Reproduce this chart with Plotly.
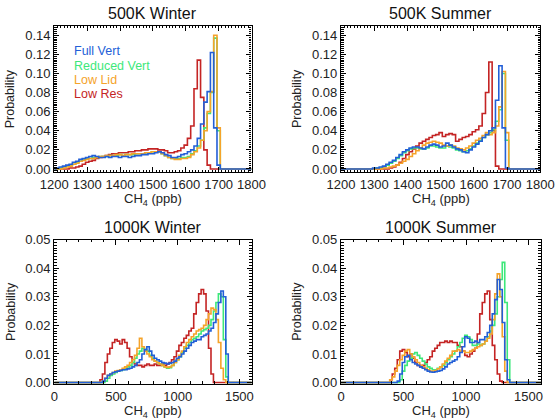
import plotly.graph_objects as go

W, H = 557, 420
FONT = "Liberation Sans, Arial, sans-serif"

series_names = ["Full Vert", "Reduced Vert", "Low Lid", "Low Res"]
series_colors = {"Full Vert": "#235fd7", "Reduced Vert": "#3de87a",
                 "Low Lid": "#f5a32a", "Low Res": "#c42424"}
panel_titles = ["500K Winter", "500K Summer", "1000K Winter", "1000K Summer"]
y_ticks_500 = [0.00, 0.02, 0.04, 0.06, 0.08, 0.10, 0.12, 0.14]
y_ticks_1000 = [0.00, 0.01, 0.02, 0.03, 0.04, 0.05]
x_ticks_500 = [1200, 1300, 1400, 1500, 1600, 1700, 1800]
x_ticks_1000 = [0, 500, 1000, 1500]

# ---------------- 500K Winter: bin centres 1210..1720 step 10 ----------------
w500_start, w500_step = 1210, 10
w500_full = [0.001, 0.002, 0.003, 0.004, 0.005, 0.007, 0.008, 0.010, 0.011, 0.012,
             0.013, 0.014, 0.013, 0.012, 0.012, 0.013, 0.012, 0.013, 0.013, 0.012,
             0.013, 0.013, 0.012, 0.013, 0.014, 0.014, 0.015, 0.015, 0.016, 0.016,
             0.017, 0.018, 0.017, 0.015, 0.014, 0.012, 0.012, 0.013, 0.015, 0.016,
             0.018, 0.020, 0.024, 0.032, 0.047, 0.070, 0.081, 0.122, 0.043, 0.004,
             0.0, 0.0]
w500_reduced = [0.0, 0.001, 0.002, 0.003, 0.004, 0.005, 0.007, 0.008, 0.010, 0.011,
                0.011, 0.012, 0.012, 0.013, 0.013, 0.013, 0.014, 0.014, 0.014, 0.015,
                0.014, 0.015, 0.015, 0.015, 0.016, 0.016, 0.016, 0.017, 0.017, 0.018,
                0.018, 0.018, 0.016, 0.014, 0.012, 0.011, 0.011, 0.011, 0.012, 0.012,
                0.013, 0.016, 0.019, 0.024, 0.030, 0.043, 0.058, 0.080, 0.137, 0.040,
                0.0, 0.0]
w500_lowlid = [0.0, 0.0, 0.001, 0.002, 0.003, 0.005, 0.006, 0.008, 0.009, 0.010,
               0.011, 0.011, 0.012, 0.013, 0.013, 0.014, 0.014, 0.014, 0.015, 0.015,
               0.014, 0.015, 0.015, 0.016, 0.016, 0.016, 0.016, 0.017, 0.017, 0.018,
               0.018, 0.018, 0.016, 0.014, 0.012, 0.011, 0.010, 0.010, 0.011, 0.011,
               0.012, 0.015, 0.018, 0.022, 0.030, 0.040, 0.060, 0.081, 0.140, 0.043,
               0.0, 0.0]
w500_lowres = [0.0, 0.0, 0.0, 0.0, 0.001, 0.001, 0.002, 0.003, 0.005, 0.007,
               0.008, 0.009, 0.011, 0.012, 0.013, 0.014, 0.015, 0.016, 0.016, 0.017,
               0.017, 0.017, 0.018, 0.018, 0.019, 0.019, 0.020, 0.020, 0.021, 0.021,
               0.021, 0.020, 0.020, 0.019, 0.017, 0.017, 0.018, 0.019, 0.022, 0.025,
               0.032, 0.045, 0.084, 0.114, 0.075, 0.020, 0.004, 0.0, 0.0, 0.0,
               0.0, 0.0]

# ---------------- 500K Summer: bin centres 1300..1720 step 10 ----------------
s500_start, s500_step = 1300, 10
s500_full = [0.001, 0.001, 0.002, 0.003, 0.005, 0.007, 0.009, 0.012, 0.015, 0.018,
             0.020, 0.022, 0.023, 0.023, 0.022, 0.021, 0.023, 0.025, 0.026, 0.025,
             0.023, 0.024, 0.027, 0.025, 0.023, 0.021, 0.020, 0.018, 0.017, 0.020,
             0.023, 0.026, 0.029, 0.033, 0.036, 0.040, 0.043, 0.072, 0.108, 0.043,
             0.001, 0.0, 0.0]
s500_reduced = [0.0, 0.001, 0.001, 0.002, 0.004, 0.006, 0.008, 0.011, 0.014, 0.017,
                0.019, 0.021, 0.022, 0.022, 0.021, 0.021, 0.022, 0.024, 0.024, 0.023,
                0.022, 0.022, 0.024, 0.023, 0.022, 0.020, 0.019, 0.018, 0.019, 0.021,
                0.024, 0.027, 0.030, 0.033, 0.036, 0.038, 0.041, 0.050, 0.062, 0.100,
                0.030, 0.0, 0.0]
s500_lowlid = [0.0, 0.0, 0.0, 0.001, 0.001, 0.002, 0.003, 0.004, 0.006, 0.008,
               0.010, 0.013, 0.016, 0.019, 0.022, 0.025, 0.027, 0.028, 0.029, 0.028,
               0.027, 0.025, 0.024, 0.025, 0.024, 0.022, 0.021, 0.020, 0.022, 0.024,
               0.027, 0.030, 0.032, 0.035, 0.038, 0.036, 0.038, 0.045, 0.065, 0.102,
               0.038, 0.0, 0.0]
s500_lowres = [0.0, 0.0, 0.0, 0.0, 0.0, 0.001, 0.002, 0.004, 0.007, 0.011,
               0.015, 0.018, 0.021, 0.024, 0.027, 0.029, 0.031, 0.033, 0.035, 0.036,
               0.038, 0.034, 0.036, 0.037, 0.036, 0.029, 0.031, 0.033, 0.034, 0.036,
               0.039, 0.041, 0.045, 0.058, 0.080, 0.112, 0.040, 0.003, 0.0, 0.0,
               0.0, 0.0, 0.0]

# ---------------- 1000K Winter: bin centres 360..1440 step 20 ----------------
w1000_start, w1000_step = 360, 20
w1000_full = [0.0, 0.0, 0.0005, 0.0015, 0.0025, 0.003, 0.0035, 0.0038, 0.004, 0.0042,      # 360-540
              0.0045, 0.0045, 0.0048, 0.005, 0.0055, 0.006, 0.007, 0.008, 0.010, 0.0115,   # 560-740
              0.0125, 0.011, 0.0095, 0.0085, 0.008, 0.0075, 0.007, 0.0068, 0.0065, 0.0068, # 760-940
              0.007, 0.0075, 0.0085, 0.009, 0.010, 0.011, 0.012, 0.013, 0.014, 0.0145,     # 960-1140
              0.015, 0.015, 0.016, 0.0165, 0.017, 0.018, 0.019, 0.021, 0.024, 0.028,       # 1160-1340
              0.032, 0.030, 0.010, 0.0, 0.0]                                               # 1360-1440
w1000_reduced = [0.0, 0.0, 0.0, 0.0005, 0.0015, 0.0025, 0.003, 0.0035, 0.004, 0.0042,
                 0.0045, 0.005, 0.0055, 0.006, 0.007, 0.0085, 0.010, 0.011, 0.012, 0.0115,
                 0.011, 0.0095, 0.0085, 0.0075, 0.007, 0.0065, 0.006, 0.0055, 0.005, 0.0052,
                 0.006, 0.007, 0.008, 0.009, 0.0105, 0.012, 0.013, 0.014, 0.015, 0.0155,
                 0.016, 0.017, 0.018, 0.0185, 0.019, 0.020, 0.022, 0.025, 0.028, 0.031,
                 0.030, 0.015, 0.002, 0.0, 0.0]
w1000_lowlid = [0.0, 0.0, 0.0005, 0.0015, 0.0025, 0.003, 0.0035, 0.004, 0.0042, 0.0045,
                0.005, 0.0055, 0.006, 0.007, 0.008, 0.0095, 0.012, 0.0155, 0.0125, 0.011,
                0.010, 0.009, 0.008, 0.0075, 0.007, 0.0065, 0.006, 0.0055, 0.0053, 0.0055,
                0.006, 0.007, 0.008, 0.0095, 0.011, 0.0125, 0.014, 0.015, 0.016, 0.017,
                0.018, 0.0185, 0.019, 0.020, 0.022, 0.024, 0.026, 0.0255, 0.022, 0.014,
                0.005, 0.001, 0.0, 0.0, 0.0]
w1000_lowres = [0.0, 0.001, 0.003, 0.007, 0.010, 0.012, 0.014, 0.015, 0.0145, 0.0135,
                0.015, 0.014, 0.012, 0.009, 0.007, 0.0065, 0.006, 0.006, 0.0055, 0.006,
                0.0065, 0.006, 0.006, 0.0065, 0.006, 0.006, 0.0065, 0.006, 0.0065, 0.007,
                0.008, 0.009, 0.011, 0.013, 0.014, 0.0155, 0.0165, 0.018, 0.019, 0.024,
                0.028, 0.031, 0.0325, 0.031, 0.025, 0.012, 0.003, 0.0, 0.0, 0.0,
                0.0, 0.0, 0.0, 0.0, 0.0]

# ---------------- 1000K Summer: bin centres 360..1440 step 20 ----------------
s1000_start, s1000_step = 360, 20
s1000_full = [0.0, 0.0, 0.0, 0.0, 0.0, 0.0005, 0.003, 0.007, 0.009, 0.0095,
              0.008, 0.007, 0.0065, 0.006, 0.0055, 0.005, 0.0045, 0.004, 0.0037, 0.0036,
              0.0038, 0.004, 0.0042, 0.0048, 0.0055, 0.0065, 0.007, 0.0075, 0.008, 0.009,
              0.0105, 0.0125, 0.016, 0.0155, 0.014, 0.014, 0.0145, 0.014, 0.015, 0.015,
              0.016, 0.0175, 0.020, 0.024, 0.029, 0.036, 0.0325, 0.021, 0.008, 0.001,
              0.0, 0.0, 0.0, 0.0, 0.0]
s1000_reduced = [0.0, 0.0, 0.0, 0.0, 0.0, 0.0, 0.001, 0.004, 0.006, 0.0075,
                 0.0085, 0.010, 0.0105, 0.0095, 0.0085, 0.0075, 0.0065, 0.0055, 0.005, 0.0045,
                 0.0045, 0.005, 0.0055, 0.006, 0.007, 0.008, 0.009, 0.010, 0.011, 0.0125,
                 0.014, 0.0155, 0.0165, 0.016, 0.015, 0.013, 0.013, 0.0135, 0.013, 0.0135,
                 0.0145, 0.016, 0.018, 0.020, 0.024, 0.030, 0.036, 0.042, 0.028, 0.008,
                 0.0, 0.0, 0.0, 0.0, 0.0]
s1000_lowlid = [0.0, 0.0, 0.001, 0.002, 0.004, 0.006, 0.008, 0.0095, 0.011, 0.0115,
                0.010, 0.009, 0.008, 0.007, 0.006, 0.0055, 0.005, 0.0045, 0.004, 0.004,
                0.0042, 0.0048, 0.0055, 0.0065, 0.0075, 0.0085, 0.0095, 0.011, 0.011, 0.0115,
                0.011, 0.011, 0.0105, 0.0105, 0.011, 0.0115, 0.012, 0.0125, 0.013, 0.0135,
                0.0145, 0.0155, 0.017, 0.022, 0.031, 0.038, 0.030, 0.016, 0.004, 0.0,
                0.0, 0.0, 0.0, 0.0, 0.0]
s1000_lowres = [0.0, 0.0, 0.001, 0.003, 0.005, 0.008, 0.011, 0.0115, 0.0105, 0.009,
                0.010, 0.0085, 0.007, 0.006, 0.0055, 0.006, 0.007, 0.008, 0.009, 0.011,
                0.012, 0.013, 0.014, 0.014, 0.0145, 0.014, 0.0145, 0.014, 0.014, 0.013,
                0.0125, 0.011, 0.0095, 0.009, 0.010, 0.011, 0.012, 0.017, 0.024, 0.028,
                0.031, 0.032, 0.022, 0.013, 0.008, 0.003, 0.0005, 0.0, 0.0, 0.0,
                0.0, 0.0, 0.0, 0.0, 0.0]

panels = [
    (w500_start, w500_step, [w500_full, w500_reduced, w500_lowlid, w500_lowres], (1200, 1800)),
    (s500_start, s500_step, [s500_full, s500_reduced, s500_lowlid, s500_lowres], (1200, 1800)),
    (w1000_start, w1000_step, [w1000_full, w1000_reduced, w1000_lowlid, w1000_lowres], (0, 1600)),
    (s1000_start, s1000_step, [s1000_full, s1000_reduced, s1000_lowlid, s1000_lowres], (0, 1600)),
]

# layout geometry in pixels: (left, right, top, bottom)
boxes = [(54.3, 251.5, 25.7, 172.3), (341.0, 540.3, 25.7, 172.3),
         (54.3, 251.7, 239.5, 384.0), (341.0, 541.0, 239.5, 384.0)]

fig = go.Figure()
draw_order = [3, 1, 2, 0]  # red, green, orange, blue on top

for p, (start, step, data, xr) in enumerate(panels):
    ax = "" if p == 0 else str(p + 1)
    for si in draw_order:
        vals = data[si]
        xs = [start + step * i for i in range(len(vals))]
        # extend zero baseline to the axis limits
        xs = [xr[0]] + [xs[0] - step] + xs + [xs[-1] + step, xr[1]]
        ys = [0.0, 0.0] + list(vals) + [0.0, 0.0]
        name = series_names[si]
        fig.add_trace(go.Scatter(x=xs, y=ys, mode="lines", line_shape="hvh",
                                 line=dict(color=series_colors[name], width=1.6),
                                 name=name, showlegend=False,
                                 xaxis="x" + ax, yaxis="y" + ax))

for p, (l, r, t, b) in enumerate(boxes):
    ax = "" if p == 0 else str(p + 1)
    top500 = p < 2
    xr = panels[p][3]
    xaxis = dict(domain=[l / W, r / W], range=list(xr), anchor="y" + ax,
                 tickvals=x_ticks_500 if top500 else x_ticks_1000,
                 ticks="inside", ticklen=5, tickwidth=1, tickcolor="black",
                 showline=True, linecolor="black", linewidth=1.2, mirror="ticks",
                 showgrid=False, zeroline=False,
                 minor=dict(dtick=10 if top500 else 100, ticks="inside", ticklen=2.5,
                            tickcolor="black", showgrid=False),
                 tickfont=dict(family=FONT, size=13, color="#222"))
    yaxis = dict(domain=[1 - b / H, 1 - t / H],
                 range=[-0.0035, 0.15] if top500 else [-0.0005, 0.05],
                 anchor="x" + ax,
                 tickvals=y_ticks_500 if top500 else y_ticks_1000, tickformat=".2f",
                 ticks="inside", ticklen=5, tickwidth=1, tickcolor="black",
                 showline=True, linecolor="black", linewidth=1.2, mirror="ticks",
                 showgrid=False, zeroline=False,
                 minor=dict(dtick=0.002 if top500 else 0.001, ticks="inside", ticklen=2.5,
                            tickcolor="black", showgrid=False),
                 tickfont=dict(family=FONT, size=13, color="#222"))
    fig.layout["xaxis" + ax] = xaxis
    fig.layout["yaxis" + ax] = yaxis

annotations = []
for p, (l, r, t, b) in enumerate(boxes):
    cx = (l + r) / 2
    annotations.append(dict(text=panel_titles[p], x=cx / W, y=1 - (t - 12) / H,
                            xref="paper", yref="paper", showarrow=False,
                            xanchor="center", yanchor="middle",
                            font=dict(family=FONT, size=16, color="#111")))
    annotations.append(dict(text="CH<sub>4</sub> (ppb)", x=cx / W, y=1 - (b + 27) / H,
                            xref="paper", yref="paper", showarrow=False,
                            xanchor="center", yanchor="middle",
                            font=dict(family=FONT, size=13, color="#222")))
    annotations.append(dict(text="Probability", x=(l - 44) / W, y=1 - ((t + b) / 2) / H,
                            xref="paper", yref="paper", showarrow=False, textangle=-90,
                            xanchor="center", yanchor="middle",
                            font=dict(family=FONT, size=12.5, color="#222")))

legend_y = [51, 65.5, 80, 94.5]
for i, name in enumerate(series_names):
    annotations.append(dict(text=name, x=72 / W, y=1 - legend_y[i] / H,
                            xref="paper", yref="paper", showarrow=False,
                            xanchor="left", yanchor="middle",
                            font=dict(family=FONT, size=12.5, color=series_colors[name])))

fig.update_layout(width=W, height=H,
                  margin=dict(l=0, r=0, t=0, b=0, autoexpand=False),
                  paper_bgcolor="white", plot_bgcolor="white",
                  annotations=annotations, showlegend=False)

fig.write_html("out.html")
